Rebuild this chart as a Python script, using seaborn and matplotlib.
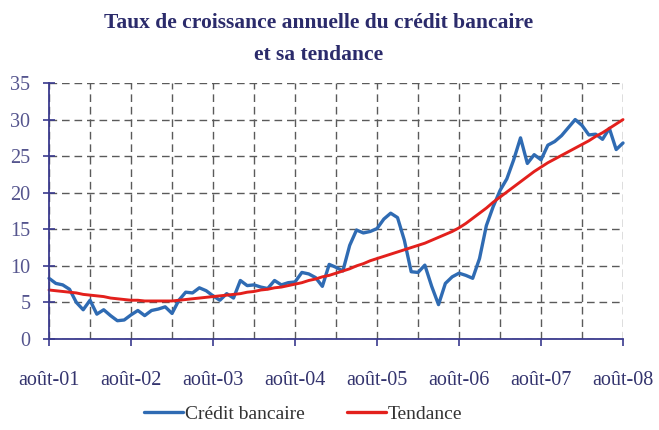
"""Taux de croissance annuelle du crédit bancaire et sa tendance (août 2001 - août 2008)."""

import matplotlib
matplotlib.use("Agg")
import matplotlib.pyplot as plt
import pandas as pd
import seaborn as sns
from matplotlib.ticker import MultipleLocator

# monthly observations, index 0 = août-01, 84 = août-08
CREDIT = [8.3, 7.6, 7.4, 6.8, 5.0, 4.0, 5.3, 3.4, 4.0, 3.2, 2.5, 2.6, 3.3,
          3.9, 3.2, 3.9, 4.1, 4.4, 3.5, 5.3, 6.4, 6.3, 7.0, 6.6, 5.9,
          5.3, 6.2, 5.6, 8.0, 7.3, 7.4, 7.1, 6.9, 8.0, 7.4, 7.7, 7.8,
          9.1, 8.9, 8.4, 7.2, 10.2, 9.8, 9.3, 12.8, 14.9, 14.5, 14.7, 15.1,
          16.4, 17.2, 16.6, 13.5, 9.2, 9.1, 10.1, 7.2, 4.7, 7.6, 8.5, 9.0,
          8.7, 8.3, 11.0, 15.5, 18.1, 20.3, 21.9, 24.5, 27.5, 24.0, 25.2, 24.5,
          26.5, 27.0, 27.8, 28.9, 30.0, 29.2, 27.9, 28.0, 27.3, 28.8, 25.9, 26.8]
TENDANCE = [6.7, 6.6, 6.5, 6.4, 6.3, 6.1, 6.0, 5.9, 5.8, 5.6, 5.5, 5.4, 5.3,
            5.3, 5.2, 5.2, 5.2, 5.2, 5.2, 5.3, 5.4, 5.5, 5.6, 5.7, 5.8,
            5.9, 6.0, 6.1, 6.2, 6.4, 6.5, 6.7, 6.8, 7.0, 7.1, 7.3, 7.5,
            7.7, 8.0, 8.2, 8.5, 8.7, 9.0, 9.3, 9.6, 10.0, 10.3, 10.7, 11.0,
            11.3, 11.6, 11.9, 12.2, 12.5, 12.8, 13.1, 13.5, 13.9, 14.3, 14.7, 15.2,
            15.8, 16.5, 17.2, 17.9, 18.7, 19.4, 20.1, 20.8, 21.5, 22.2, 22.9, 23.5,
            24.1, 24.6, 25.1, 25.6, 26.1, 26.6, 27.1, 27.7, 28.2, 28.8, 29.4, 30.0]
YEAR_LABELS = ["août-01", "août-02", "août-03", "août-04", "août-05", "août-06", "août-07", "août-08"]

NAVY = "#3a3a8e"
SERIF = ["Liberation Serif", "DejaVu Serif"]

df = pd.DataFrame({"mois": range(len(CREDIT)), "Crédit bancaire": CREDIT, "Tendance": TENDANCE})
long = df.melt(id_vars="mois", var_name="serie", value_name="taux")

sns.set_theme(style="white")
plt.rcParams["font.family"] = SERIF

fig = plt.figure(figsize=(6.59, 4.30), dpi=100)
ax = fig.add_axes([0.0744, 0.2116, 0.8710, 0.5954])

sns.lineplot(data=long, x="mois", y="taux", hue="serie", palette={"Crédit bancaire": "#2f6bb3", "Tendance": "#e3201c"},
             linewidth=2.4, ax=ax, legend=True)
for line in ax.lines:
    line.set_clip_on(False)
ax.lines[1].set_linewidth(2.1)

ax.set_xlim(0, 84)
ax.set_ylim(0, 35)
ax.set_xticks(range(0, 85, 12))
ax.set_xticklabels(YEAR_LABELS, family=SERIF)
ax.xaxis.set_minor_locator(MultipleLocator(6))
ax.set_yticks(range(0, 36, 5))
ax.set_yticklabels([str(v) for v in range(0, 36, 5)], family=SERIF)
ax.set_xlabel("")
ax.set_ylabel("")

ax.grid(True, which="both", axis="x", linestyle=(0, (5.5, 3.5)), color="#5a5a5a", linewidth=1.0)
ax.grid(True, which="major", axis="y", linestyle=(0, (5.5, 3.5)), color="#5a5a5a", linewidth=1.0)
ax.set_axisbelow(True)

for side in ("top", "right"):
    ax.spines[side].set_visible(False)
for side in ("left", "bottom"):
    ax.spines[side].set_color(NAVY)
    ax.spines[side].set_linewidth(1.3)

ax.tick_params(axis="y", which="major", direction="inout", length=9, width=1.2, color=NAVY, pad=9,
               labelsize=14.5, labelcolor="#55558e", left=True)
ax.tick_params(axis="x", which="major", direction="out", length=5, width=1.2, color=NAVY, pad=18,
               labelsize=14.5, labelcolor="#34346e", bottom=True)
ax.tick_params(axis="x", which="minor", length=0)

handles, labels = ax.get_legend_handles_labels()
ax.get_legend().remove()
fig.legend(handles, labels, loc="lower center", bbox_to_anchor=(0.46, -0.025), ncol=2, frameon=False,
           prop={"family": SERIF, "size": 14}, handlelength=2.0, handletextpad=0.1, columnspacing=2.2,
           labelcolor="#333333")

fig.text(0.483, 0.947, "Taux de croissance annuelle du crédit bancaire", ha="center", va="center",
         fontsize=15.5, fontweight="bold", color="#2b2b6b", family=SERIF)
fig.text(0.483, 0.873, "et sa tendance", ha="center", va="center",
         fontsize=15.5, fontweight="bold", color="#2b2b6b", family=SERIF)

fig.savefig("out.png", dpi=100)
